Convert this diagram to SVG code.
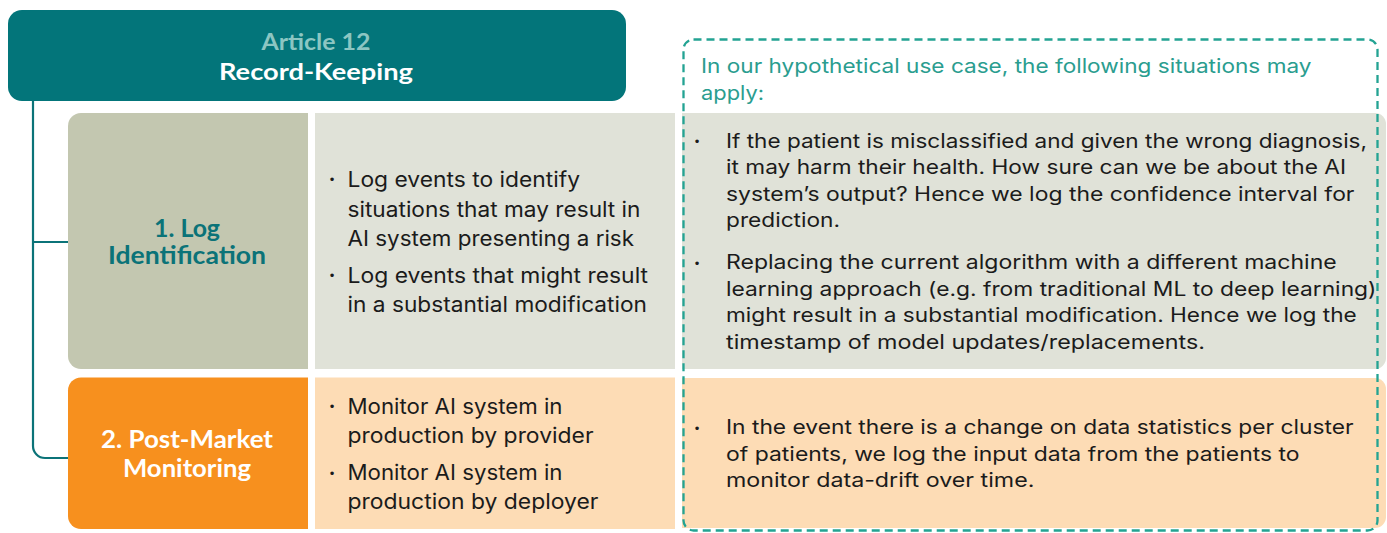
<svg xmlns="http://www.w3.org/2000/svg" width="1387" height="533" viewBox="0 0 1387 533">
<style>
.hd{font-family:Lato,"Open Sans",sans-serif;font-weight:700;text-anchor:middle}
.mid{font-family:Inter,Lato,sans-serif;font-size:21px;fill:#1b1b1b}
.rt{font-family:Inter,Lato,sans-serif;font-size:19.5px;fill:#1b1b1b}
.bul{font-family:"DejaVu Sans",sans-serif;font-size:12px;fill:#1b1b1b}
.conn{fill:none;stroke:#0B7378;stroke-width:2.2}
</style>
<rect width="1387" height="533" fill="#ffffff"/>
<g id="connectors">
<path class="conn" d="M33,101 V446 A12,12 0 0 0 45,458 H68"/>
<path class="conn" d="M33,242 H68"/>
</g>
<g id="header">
<rect x="8" y="10" width="618" height="91" rx="14" fill="#03757A"/>
<text class="hd" x="316" y="50" font-size="22" fill="#8CC6C2" textLength="109" lengthAdjust="spacingAndGlyphs">Article 12</text>
<text class="hd" x="316" y="80" font-size="23" fill="#ffffff" textLength="194" lengthAdjust="spacingAndGlyphs">Record-Keeping</text>
</g>
<g id="log-identification">
<path d="M81,113 H308 V369 H81 A13,13 0 0 1 68,356 V126 A13,13 0 0 1 81,113 Z" fill="#C3C7B0"/>
<text class="hd" x="187" y="236.7" font-size="24" fill="#0B7378" textLength="66" lengthAdjust="spacingAndGlyphs">1. Log</text>
<text class="hd" x="187" y="264.3" font-size="24" fill="#0B7378" textLength="158" lengthAdjust="spacingAndGlyphs">Identification</text>
</g>
<g id="log-identification-details">
<rect x="315" y="113" width="360" height="256" fill="#E0E2D8"/>
<text class="bul" x="328.5" y="184">•</text>
<text class="mid" x="347.5" y="186.7" textLength="232.5" lengthAdjust="spacingAndGlyphs">Log events to identify</text>
<text class="mid" x="347.5" y="216.7" textLength="293" lengthAdjust="spacingAndGlyphs">situations that may result in</text>
<text class="mid" x="347.5" y="245.7" textLength="286.5" lengthAdjust="spacingAndGlyphs">AI system presenting a risk</text>
<text class="bul" x="328.5" y="280">•</text>
<text class="mid" x="347.5" y="282.7" textLength="300.5" lengthAdjust="spacingAndGlyphs">Log events that might result</text>
<text class="mid" x="347.5" y="312" textLength="299.5" lengthAdjust="spacingAndGlyphs">in a substantial modification</text>
</g>
<g id="post-market-monitoring">
<path d="M81,377.5 H308 V529 H81 A13,13 0 0 1 68,516 V390.5 A13,13 0 0 1 81,377.5 Z" fill="#F7901E"/>
<text class="hd" x="187" y="447.7" font-size="24" fill="#ffffff" textLength="172" lengthAdjust="spacingAndGlyphs">2. Post-Market</text>
<text class="hd" x="187" y="476.7" font-size="24" fill="#ffffff" textLength="128" lengthAdjust="spacingAndGlyphs">Monitoring</text>
</g>
<g id="post-market-details">
<rect x="315" y="377.5" width="360" height="151.5" fill="#FDDCB5"/>
<text class="bul" x="328.5" y="411">•</text>
<text class="mid" x="347.5" y="413.7" textLength="215" lengthAdjust="spacingAndGlyphs">Monitor AI system in</text>
<text class="mid" x="347.5" y="443" textLength="246" lengthAdjust="spacingAndGlyphs">production by provider</text>
<text class="bul" x="328.5" y="477.5">•</text>
<text class="mid" x="347.5" y="480" textLength="215" lengthAdjust="spacingAndGlyphs">Monitor AI system in</text>
<text class="mid" x="347.5" y="509" textLength="251" lengthAdjust="spacingAndGlyphs">production by deployer</text>
</g>
<g id="use-case-log">
<path d="M682,113 H1375 A11,11 0 0 1 1386,124 V358 A11,11 0 0 1 1375,369 H682 Z" fill="#E0E2D8"/>
<text class="bul" x="693.5" y="146">•</text>
<text class="rt" x="726" y="147.5" textLength="641" lengthAdjust="spacingAndGlyphs">If the patient is misclassified and given the wrong diagnosis,</text>
<text class="rt" x="726" y="174" textLength="620" lengthAdjust="spacingAndGlyphs">it may harm their health. How sure can we be about the AI</text>
<text class="rt" x="726" y="200.5" textLength="628.5" lengthAdjust="spacingAndGlyphs">system’s output? Hence we log the confidence interval for</text>
<text class="rt" x="726" y="226.7" textLength="114" lengthAdjust="spacingAndGlyphs">prediction.</text>
<text class="bul" x="693.5" y="268">•</text>
<text class="rt" x="726" y="269.3" textLength="610.7" lengthAdjust="spacingAndGlyphs">Replacing the current algorithm with a different machine</text>
<text class="rt" x="726" y="296" textLength="650.4" lengthAdjust="spacingAndGlyphs">learning approach (e.g. from traditional ML to deep learning)</text>
<text class="rt" x="726" y="322" textLength="630.8" lengthAdjust="spacingAndGlyphs">might result in a substantial modification. Hence we log the</text>
<text class="rt" x="726" y="349.3" textLength="479" lengthAdjust="spacingAndGlyphs">timestamp of model updates/replacements.</text>
</g>
<g id="use-case-monitoring">
<path d="M682,378 H1375 A11,11 0 0 1 1386,389 V517 A11,11 0 0 1 1375,528 H682 Z" fill="#FDDCB5"/>
<text class="bul" x="693.5" y="432.5">•</text>
<text class="rt" x="726" y="434.3" textLength="627.6" lengthAdjust="spacingAndGlyphs">In the event there is a change on data statistics per cluster</text>
<text class="rt" x="726" y="461" textLength="573.6" lengthAdjust="spacingAndGlyphs">of patients, we log the input data from the patients to</text>
<text class="rt" x="726" y="486.7" textLength="308.4" lengthAdjust="spacingAndGlyphs">monitor data-drift over time.</text>
</g>
<g id="use-case-frame">
<rect x="683.5" y="39.5" width="694" height="491" rx="10" fill="none" stroke="#23A393" stroke-width="2.3" stroke-dasharray="8 5"/>
<text class="rt" x="701" y="72.7" textLength="610.5" lengthAdjust="spacingAndGlyphs" style="fill:#2A9D8F">In our hypothetical use case, the following situations may</text>
<text class="rt" x="701" y="100" style="fill:#2A9D8F" textLength="63" lengthAdjust="spacingAndGlyphs">apply:</text>
</g>
</svg>
